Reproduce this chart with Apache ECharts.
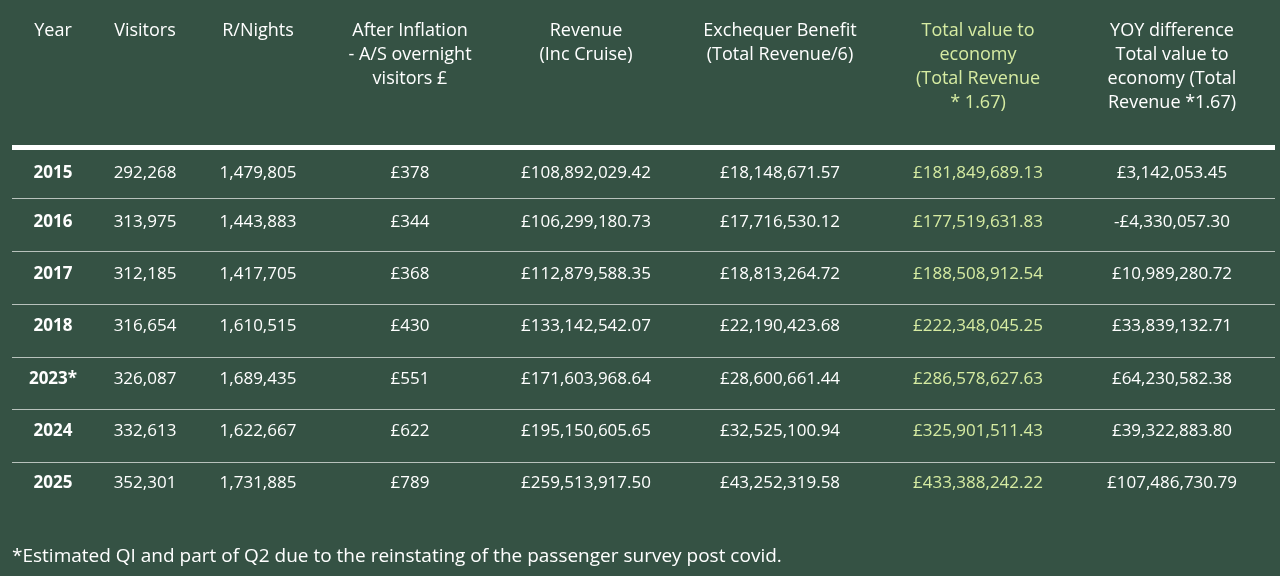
<!DOCTYPE html>
<html>
<head>
<meta charset="utf-8">
<script src="https://cdn.jsdelivr.net/npm/echarts@6/dist/echarts.min.js"></script>
<style>
  html, body { margin: 0; padding: 0; background: #355244; }
  #chart { width: 1280px; height: 576px; }
</style>
</head>
<body>
<div id="chart"></div>
<script>
// ---- table data ----
const headers = [
  'Year', 'Visitors', 'R/Nights',
  'After Inflation\n- A/S overnight\nvisitors £',
  'Revenue\n(Inc Cruise)',
  'Exchequer Benefit\n(Total Revenue/6)',
  'Total value to\neconomy\n(Total Revenue\n* 1.67)',
  'YOY difference\nTotal value to\neconomy (Total\nRevenue *1.67)'
]
const years = ['2015', '2016', '2017', '2018', '2023*', '2024', '2025']
const visitors = ['292,268', '313,975', '312,185', '316,654', '326,087', '332,613', '352,301']
const nights = ['1,479,805', '1,443,883', '1,417,705', '1,610,515', '1,689,435', '1,622,667', '1,731,885']
const spend = ['£378', '£344', '£368', '£430', '£551', '£622', '£789']
const revenue = ['£108,892,029.42', '£106,299,180.73', '£112,879,588.35', '£133,142,542.07',
  '£171,603,968.64', '£195,150,605.65', '£259,513,917.50']
const exchequer = ['£18,148,671.57', '£17,716,530.12', '£18,813,264.72', '£22,190,423.68',
  '£28,600,661.44', '£32,525,100.94', '£43,252,319.58']
const totalValue = ['£181,849,689.13', '£177,519,631.83', '£188,508,912.54', '£222,348,045.25',
  '£286,578,627.63', '£325,901,511.43', '£433,388,242.22']
const yoyDiff = ['£3,142,053.45', '-£4,330,057.30', '£10,989,280.72', '£33,839,132.71',
  '£64,230,582.38', '£39,322,883.80', '£107,486,730.79']
const footnote = '*Estimated QI and part of Q2 due to the reinstating of the passenger survey post covid.'

const columns = [years, visitors, nights, spend, revenue, exchequer, totalValue, yoyDiff]

// ---- layout ----
const colX = [53, 145, 258, 410, 586, 780, 978, 1172]
const rowY = [173, 222, 274, 326, 379, 431, 483]
const lineY = [198, 251, 304, 357, 409, 462]
const white = '#ffffff'
const green = '#d6eba2'
const font = '"Open Sans", sans-serif'

const elements = []

headers.forEach((h, i) => {
  elements.push({
    type: 'text', x: colX[i], y: 19,
    style: {
      text: h, fill: i === 6 ? green : white, font: '18px ' + font,
      align: 'center', verticalAlign: 'top', lineHeight: 24
    }
  })
})

elements.push({
  type: 'rect', shape: { x: 12, y: 145, width: 1263, height: 5 },
  style: { fill: '#ffffff' }
})
lineY.forEach(y => {
  elements.push({
    type: 'rect', shape: { x: 12, y: y, width: 1263, height: 1 },
    style: { fill: '#b8c2bc' }
  })
})

columns.forEach((col, i) => {
  col.forEach((v, r) => {
    elements.push({
      type: 'text', x: colX[i], y: rowY[r],
      style: {
        text: v, fill: i === 6 ? green : white,
        font: (i === 0 ? 'bold ' : '') + '17px ' + font,
        align: 'center', verticalAlign: 'middle'
      }
    })
  })
})

elements.push({
  type: 'text', x: 12, y: 557,
  style: { text: footnote, fill: white, font: '19px ' + font, align: 'left', verticalAlign: 'middle' }
})

const chart = echarts.init(document.getElementById('chart'))
chart.setOption({
  backgroundColor: '#355244',
  animation: false,
  graphic: { elements }
})
</script>
</body>
</html>
